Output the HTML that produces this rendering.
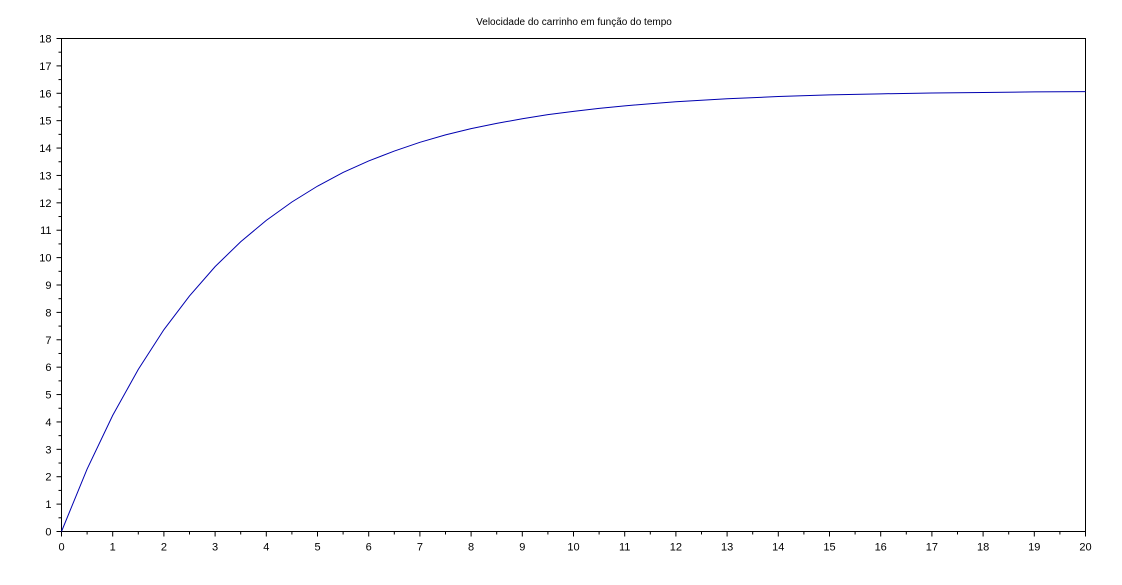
<!DOCTYPE html>
<html><head><meta charset="utf-8"><style>
body{margin:0;background:#fff;}
svg{display:block;font-family:"Liberation Sans",sans-serif;}
</style></head><body>
<svg id="chart" width="1122" height="585">
<rect width="1122" height="585" fill="#fff"/>
<text x="574" y="25" font-size="10" text-anchor="middle">Velocidade do carrinho em função do tempo</text>
<g id="axes"></g>
<g id="series"></g>
</svg>
<script>
const times=[0,0.5,1,1.5,2,2.5,3,3.5,4,4.5,5,5.5,6,6.5,7,7.5,8,8.5,9,9.5,10,10.5,11,11.5,12,13,14,15,16,17,18,19,20];
const speeds=[0,2.28,4.24,5.92,7.37,8.60,9.67,10.58,11.36,12.03,12.61,13.11,13.53,13.89,14.21,14.48,14.71,14.90,15.07,15.22,15.34,15.45,15.54,15.62,15.69,15.80,15.88,15.94,15.98,16.01,16.03,16.05,16.06];
const xTicks=[0,1,2,3,4,5,6,7,8,9,10,11,12,13,14,15,16,17,18,19,20];
const yTicks=[0,1,2,3,4,5,6,7,8,9,10,11,12,13,14,15,16,17,18];
const X0=61.5,X1=1085.5,Y0=531.5,Y1=38.5;
const sx=v=>X0+(v-0)/(20-0)*(X1-X0);
const sy=v=>Y0-(v-0)/(18-0)*(Y0-Y1);
const NS="http://www.w3.org/2000/svg";
const ax=document.getElementById('axes');
function mk(t,a,p){const e=document.createElementNS(NS,t);for(const k in a)e.setAttribute(k,a[k]);(p||ax).appendChild(e);return e;}
const box=mk('rect',{x:X0,y:Y1,width:X1-X0,height:Y0-Y1,fill:'none',stroke:'#000','stroke-width':1});


xTicks.forEach((t,i)=>{
 const x=sx(t);
 const l=mk('line',{x1:x,y1:Y0,x2:x,y2:Y0+5,stroke:'#000'});
 
 
 if(i<xTicks.length-1){const m=mk('line',{x1:sx(t+0.5),y1:Y0,x2:sx(t+0.5),y2:Y0+3,stroke:'#000'});
 
 }
 const tx=mk('text',{x:x,y:Y0+19,'font-size':11,'text-anchor':'middle'});
 tx.textContent=t;
 
 
});
yTicks.forEach((t,i)=>{
 const y=sy(t);
 const l=mk('line',{x1:X0-5,y1:y,x2:X0,y2:y,stroke:'#000'});
 
 
 if(i<yTicks.length-1){const m=mk('line',{x1:X0-3,y1:sy(t+0.5),x2:X0,y2:sy(t+0.5),stroke:'#000'});
 
 }
 const tx=mk('text',{x:X0-10,y:y+4,'font-size':11,'text-anchor':'end'});
 tx.textContent=t;
 
 
});
const pts=times.map((t,i)=>sx(t).toFixed(2)+','+sy(speeds[i]).toFixed(2)).join(' ');
const pl=mk('polyline',{points:pts,fill:'none',stroke:'#0000b0','stroke-width':1},document.getElementById('series'));


</script>
</body></html>
